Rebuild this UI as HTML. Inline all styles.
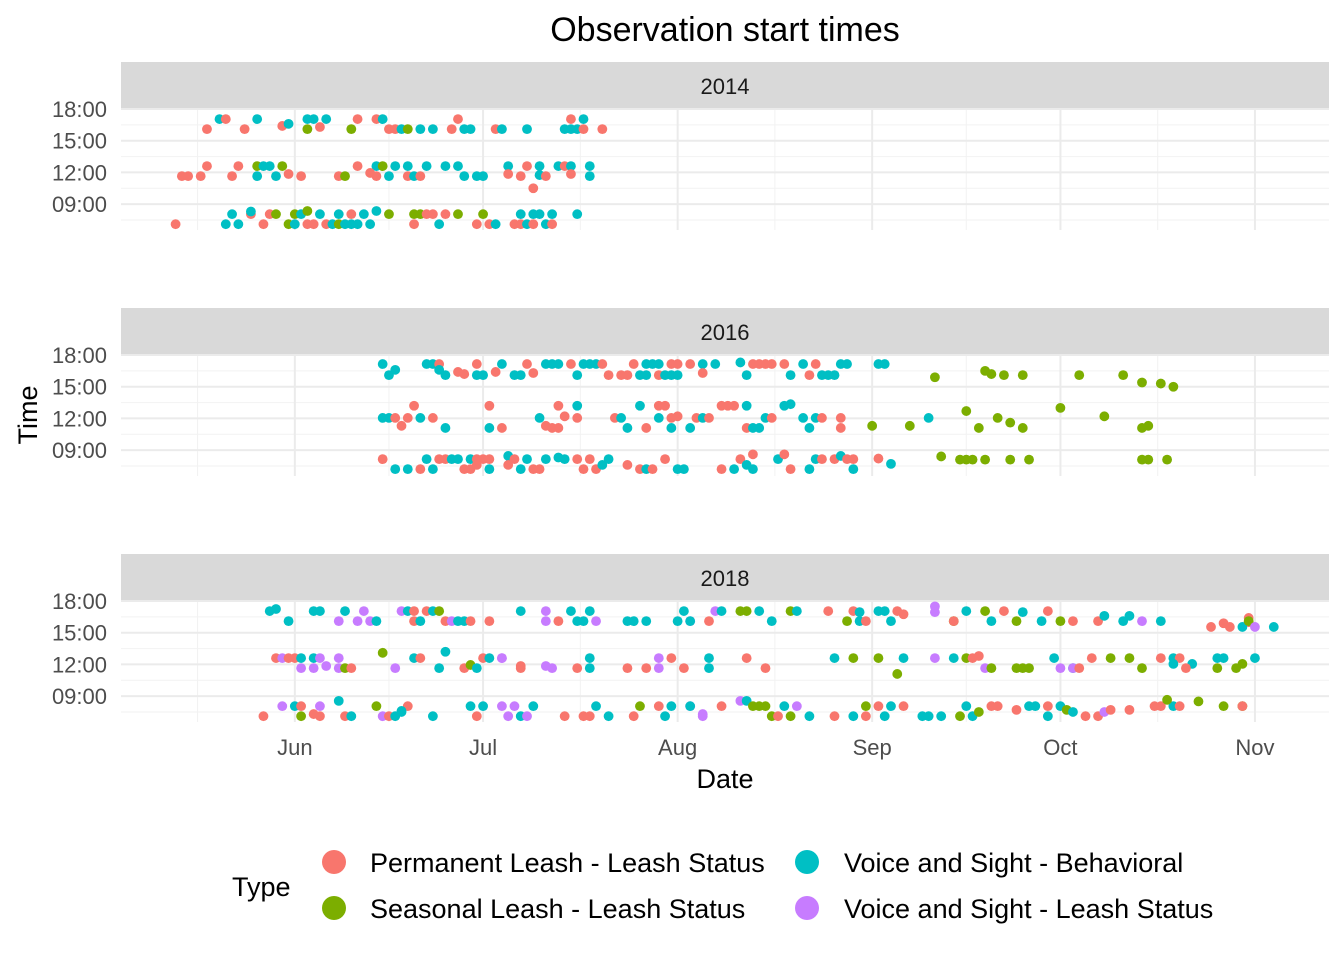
<!DOCTYPE html>
<html><head><meta charset="utf-8"><style>
body{margin:0;background:#fff;}
svg text{font-family:"Liberation Sans",Arial,sans-serif;}
</style></head><body>
<svg id="chart" width="1344" height="960" viewBox="0 0 1344 960" xmlns="http://www.w3.org/2000/svg">
<text x="725" y="41" font-size="34" text-anchor="middle" fill="#000">Observation start times</text>
<g id="panels"></g>
<text x="725" y="788" font-size="27" text-anchor="middle" fill="#000">Date</text>
<text x="0" y="0" font-size="27" text-anchor="middle" fill="#000" transform="translate(37,415) rotate(-90)">Time</text>
<g>
<text x="232" y="896" font-size="27" fill="#000">Type</text>
<circle cx="334" cy="862" r="12" fill="#F8766D"/>
<text x="370" y="872" font-size="27" fill="#000">Permanent Leash - Leash Status</text>
<circle cx="334" cy="908" r="12" fill="#7CAE00"/>
<text x="370" y="918" font-size="27" fill="#000">Seasonal Leash - Leash Status</text>
<circle cx="807" cy="862" r="12" fill="#00BFC4"/>
<text x="844" y="872" font-size="27" fill="#000">Voice and Sight - Behavioral</text>
<circle cx="807" cy="908" r="12" fill="#C77CFF"/>
<text x="844" y="918" font-size="27" fill="#000">Voice and Sight - Leash Status</text>
</g>
</svg>
<script>
// days are offsets from June 1; hours are decimal clock hours
const years = ["2014","2016","2018"];
const yTicks = [9,12,15,18];
const yTickLabels = ["09:00","12:00","15:00","18:00"];
const xTicks = [0,30,61,92,122,153];
const xTickLabels = ["Jun","Jul","Aug","Sep","Oct","Nov"];
const typeColors = {P:"#F8766D",S:"#7CAE00",V:"#00BFC4",L:"#C77CFF"};

const obs2014 = [
[-12,17.05,'V'],[-11,17.05,'P'],[-6,17.05,'V'],[2,17.05,'V'],[3,17.05,'V'],[5,17.05,'V'],[10,17.05,'P'],[13,17.05,'P'],[14,17.05,'V'],[26,17.05,'P'],[44,17.05,'P'],[46,17.05,'V'],
[-2,16.4,'P'],[-1,16.6,'V'],[4,16.3,'P'],
[-14,16.1,'P'],[-8,16.1,'P'],[2,16.1,'S'],[9,16.1,'S'],[15,16.1,'P'],[16,16.1,'P'],[17,16.1,'V'],[18,16.1,'S'],[20,16.1,'V'],[22,16.1,'V'],[25,16.1,'P'],[27,16.1,'V'],[28,16.1,'V'],[32,16.1,'P'],[33,16.1,'V'],[37,16.1,'V'],[43,16.1,'V'],[44,16.1,'V'],[45,16.1,'V'],[46,16.1,'P'],[49,16.1,'P'],
[-14,12.6,'P'],[-9,12.6,'P'],[-6,12.6,'S'],[-5,12.6,'V'],[-4,12.6,'V'],[-2,12.6,'S'],[10,12.6,'P'],[13,12.6,'V'],[14,12.6,'S'],[16,12.6,'V'],[18,12.6,'V'],[21,12.6,'V'],[24,12.6,'V'],[26,12.6,'V'],[34,12.6,'V'],[37,12.6,'P'],[39,12.6,'V'],[42,12.6,'V'],[43,12.6,'P'],[44,12.6,'V'],[47,12.6,'V'],
[-18,11.65,'P'],[-17,11.65,'P'],[-15,11.65,'P'],[-10,11.65,'P'],[-6,11.65,'V'],[-3,11.65,'V'],[-1,11.85,'P'],[1,11.65,'P'],[7,11.65,'P'],[8,11.65,'S'],[12,11.95,'P'],[13,11.65,'P'],[15,11.65,'V'],[18,11.65,'P'],[19,11.65,'V'],[20,11.65,'P'],[27,11.65,'V'],[29,11.65,'V'],[30,11.65,'V'],[34,11.85,'P'],[36,11.65,'P'],[39,11.75,'V'],[40,11.65,'P'],[44,11.85,'P'],[47,11.65,'V'],
[38,10.5,'P'],
[-10,8.05,'V'],[-7,8.05,'P'],[-7,8.3,'V'],[-4,8.05,'P'],[-3,8.05,'S'],[0,8.05,'S'],[1,8.05,'V'],[2,8.35,'S'],[4,8.05,'V'],[7,8.05,'V'],[9,8.05,'P'],[11,8.05,'V'],[13,8.35,'V'],[15,8.05,'S'],[19,8.05,'S'],[20,8.05,'S'],[21,8.05,'P'],[22,8.05,'P'],[24,8.05,'P'],[26,8.05,'S'],[30,8.05,'S'],[36,8.05,'V'],[38,8.05,'V'],[39,8.05,'V'],[41,8.05,'V'],[45,8.05,'V'],
[-19,7.1,'P'],[-11,7.1,'V'],[-9,7.1,'V'],[-5,7.1,'P'],[-1,7.1,'S'],[0,7.1,'V'],[2,7.1,'P'],[3,7.1,'P'],[5,7.1,'P'],[6,7.1,'V'],[7,7.1,'S'],[8,7.1,'V'],[9,7.1,'V'],[10,7.1,'V'],[12,7.1,'V'],[19,7.1,'P'],[23,7.1,'V'],[29,7.1,'P'],[31,7.1,'P'],[32,7.1,'V'],[35,7.1,'P'],[36,7.1,'P'],[37,7.1,'V'],[38,7.1,'P'],[40,7.1,'V'],[41,7.1,'P']
];

const obs2016 = [
[14,17.15,'V'],[21,17.15,'V'],[22,17.15,'V'],[23,17.15,'P'],[29,17.15,'P'],[33,17.15,'V'],[37,17.15,'P'],[40,17.15,'V'],[41,17.15,'V'],[42,17.15,'V'],[44,17.15,'P'],[46,17.15,'V'],[47,17.15,'V'],[48,17.15,'V'],[49,17.15,'P'],[54,17.15,'P'],[56,17.15,'V'],[57,17.15,'V'],[58,17.15,'V'],[60,17.15,'P'],[61,17.15,'P'],[63,17.15,'P'],[65,17.15,'V'],[67,17.15,'V'],[71,17.3,'V'],[73,17.15,'P'],[74,17.15,'P'],[75,17.15,'P'],[76,17.15,'P'],[78,17.15,'P'],[81,17.15,'V'],[83,17.15,'P'],[87,17.15,'V'],[88,17.15,'V'],
[15,16.1,'V'],[16,16.6,'V'],[23,16.6,'V'],[24,16.1,'V'],[26,16.4,'P'],[27,16.2,'P'],[29,16.1,'V'],[30,16.1,'V'],[32,16.4,'P'],[35,16.1,'V'],[36,16.1,'V'],[38,16.3,'P'],[45,16.1,'V'],[50,16.1,'P'],[52,16.1,'P'],[53,16.1,'P'],[55,16.1,'V'],[56,16.1,'V'],[58,16.1,'P'],[59,16.1,'V'],[60,16.1,'V'],[61,16.1,'V'],[65,16.3,'P'],[72,16.1,'V'],[79,16.1,'V'],[82,16.1,'P'],[84,16.1,'V'],[85,16.1,'V'],[86,16.1,'V'],
[19,13.2,'P'],[31,13.2,'P'],[42,13.2,'P'],[45,13.2,'V'],[55,13.2,'V'],[58,13.2,'P'],[59,13.2,'P'],[68,13.2,'P'],[69,13.2,'P'],[70,13.2,'P'],[72,13.2,'V'],[78,13.2,'V'],[79,13.35,'V'],
[14,12.05,'V'],[15,12.05,'V'],[16,12.05,'P'],[18,12.05,'P'],[20,12.05,'V'],[22,12.05,'P'],[39,12.05,'V'],[43,12.2,'P'],[45,12.05,'P'],[51,12.05,'P'],[52,12.05,'V'],[58,12.05,'V'],[60,12.05,'P'],[61,12.2,'P'],[64,12.05,'P'],[65,12.05,'V'],[66,12.05,'P'],[75,12.05,'V'],[76,12.05,'P'],[81,12.05,'V'],[83,12.05,'V'],[84,12.05,'P'],[87,12.05,'P'],
[17,11.3,'P'],[24,11.1,'V'],[31,11.1,'V'],[33,11.1,'P'],[40,11.3,'P'],[41,11.1,'P'],[42,11.1,'P'],[53,11.1,'V'],[56,11.1,'P'],[60,11.1,'V'],[63,11.1,'V'],[72,11.1,'P'],[73,11.1,'V'],[74,11.1,'V'],[82,11.1,'V'],[87,11.1,'P'],[92,11.3,'S'],
[14,8.15,'P'],[21,8.15,'V'],[23,8.15,'P'],[24,8.15,'P'],[25,8.15,'V'],[26,8.15,'V'],[28,8.15,'V'],[29,8.15,'P'],[30,8.15,'P'],[31,8.15,'P'],[34,8.45,'V'],[35,8.15,'P'],[37,8.15,'V'],[40,8.15,'V'],[42,8.3,'V'],[43,8.15,'V'],[45,8.15,'P'],[47,8.15,'P'],[50,8.15,'V'],[59,8.15,'P'],[71,8.15,'P'],[73,8.6,'P'],[77,8.15,'V'],[78,8.6,'P'],[83,8.15,'V'],[84,8.15,'P'],[86,8.15,'P'],[87,8.45,'V'],[88,8.15,'P'],[89,8.15,'P'],
[16,7.2,'V'],[18,7.2,'V'],[20,7.2,'P'],[22,7.2,'V'],[27,7.2,'P'],[28,7.2,'P'],[29,7.6,'P'],[31,7.2,'V'],[34,7.6,'P'],[36,7.2,'V'],[38,7.2,'P'],[39,7.2,'P'],[46,7.2,'P'],[48,7.2,'P'],[49,7.6,'V'],[53,7.6,'P'],[55,7.2,'P'],[56,7.2,'V'],[57,7.2,'P'],[61,7.2,'V'],[62,7.2,'V'],[68,7.2,'P'],[70,7.2,'V'],[72,7.6,'V'],[73,7.2,'V'],[79,7.2,'P'],[82,7.2,'V'],[89,7.2,'V'],
[93,17.15,'V'],[94,17.15,'V'],[93,8.2,'P'],[95,7.7,'V'],[101,12.05,'V'],[98,11.3,'S'],
[102,15.9,'S'],[103,8.4,'S'],[106,8.1,'S'],[107,8.1,'S'],[108,8.1,'S'],[110,8.1,'S'],[114,8.1,'S'],[117,8.1,'S'],[110,16.5,'S'],[111,16.2,'S'],[113,16.1,'S'],[116,16.1,'S'],[107,12.7,'S'],[109,11.1,'S'],[112,12.05,'S'],[114,11.6,'S'],[116,11.1,'S'],[122,13.0,'S'],[125,16.1,'S'],[129,12.2,'S'],[132,16.1,'S'],[135,15.4,'S'],[138,15.3,'S'],[140,15.0,'S'],[135,11.1,'S'],[136,11.3,'S'],[135,8.1,'S'],[136,8.1,'S'],[139,8.1,'S']
];

const obs2018 = [
[-4,17.05,'V'],[-3,17.25,'V'],[3,17.05,'V'],[4,17.05,'V'],[8,17.05,'V'],[11,17.05,'L'],[17,17.05,'L'],[18,17.05,'V'],[19,17.05,'P'],[21,17.05,'P'],[22,17.05,'V'],[23,17.05,'S'],[36,17.05,'V'],[40,17.05,'L'],[44,17.05,'V'],[47,17.05,'V'],[62,17.05,'V'],[67,17.05,'L'],[68,17.05,'V'],[71,17.05,'S'],[72,17.05,'S'],[74,17.05,'V'],
[-1,16.1,'V'],[7,16.1,'L'],[10,16.1,'L'],[12,16.1,'L'],[13,16.1,'V'],[19,16.1,'P'],[20,16.1,'V'],[24,16.1,'P'],[25,16.1,'L'],[26,16.1,'V'],[27,16.1,'V'],[28,16.1,'P'],[31,16.1,'P'],[40,16.1,'L'],[42,16.1,'P'],[45,16.1,'V'],[46,16.1,'V'],[48,16.1,'L'],[53,16.1,'V'],[54,16.1,'V'],[56,16.1,'V'],[61,16.1,'V'],[63,16.1,'L'],[63,16.1,'V'],[66,16.1,'P'],[76,16.1,'V'],
[14,13.1,'S'],
[-3,12.6,'P'],[-2,12.6,'L'],[-1,12.6,'P'],[0,12.6,'P'],[1,12.6,'V'],[3,12.6,'V'],[4,12.6,'L'],[7,12.6,'L'],[19,12.6,'V'],[20,12.6,'P'],[24,13.2,'V'],[30,12.6,'P'],[31,12.6,'V'],[33,12.6,'L'],[33,12.6,'L'],[47,12.6,'V'],[58,12.6,'L'],[60,12.6,'P'],[66,12.6,'V'],[72,12.6,'P'],
[1,11.65,'L'],[3,11.65,'L'],[5,11.85,'L'],[7,11.65,'L'],[8,11.65,'S'],[9,11.65,'P'],[16,11.65,'L'],[23,11.65,'V'],[27,11.65,'P'],[28,11.95,'S'],[29,11.65,'V'],[36,11.65,'P'],[36,11.85,'P'],[40,11.85,'L'],[41,11.65,'L'],[45,11.65,'P'],[47,11.65,'V'],[53,11.65,'P'],[56,11.65,'P'],[58,11.65,'L'],[62,11.65,'P'],[66,11.65,'V'],[75,11.65,'P'],
[-2,8.05,'L'],[0,8.05,'V'],[1,8.05,'P'],[4,8.05,'L'],[7,8.55,'V'],[13,8.05,'S'],[18,8.05,'P'],[17,7.6,'V'],[28,8.05,'V'],[30,8.05,'V'],[33,8.05,'L'],[35,8.05,'L'],[38,8.05,'V'],[48,8.05,'V'],[55,8.05,'S'],[58,8.05,'P'],[60,8.05,'V'],[63,8.05,'L'],[63,8.05,'V'],[68,8.05,'P'],[71,8.55,'L'],[72,8.55,'V'],[73,8.05,'S'],[74,8.05,'S'],
[-5,7.1,'P'],[1,7.1,'S'],[3,7.3,'P'],[4,7.1,'P'],[8,7.1,'P'],[9,7.1,'V'],[14,7.1,'L'],[15,7.1,'P'],[16,7.1,'V'],[17,7.5,'V'],[22,7.1,'V'],[29,7.1,'P'],[34,7.1,'L'],[36,7.1,'V'],[37,7.1,'L'],[43,7.1,'P'],[46,7.1,'P'],[47,7.1,'P'],[50,7.1,'V'],[54,7.1,'P'],[59,7.1,'V'],[65,7.1,'L'],[65,7.3,'L'],[76,7.1,'S'],
[79,17.05,'S'],[80,17.05,'V'],[85,17.05,'P'],[89,17.05,'P'],[90,16.95,'V'],[93,17.05,'V'],[94,17.05,'V'],[96,17.05,'P'],[97,16.75,'P'],[102,17.5,'L'],[102,16.95,'L'],[107,17.05,'V'],[110,17.05,'S'],[113,17.05,'P'],[116,16.95,'V'],[120,17.05,'P'],
[88,16.1,'S'],[90,16.1,'V'],[95,16.1,'V'],[91,16.1,'P'],[105,16.1,'S'],[105,16.1,'P'],[111,16.1,'V'],[115,16.1,'S'],[119,16.1,'V'],[122,16.1,'S'],[124,16.1,'P'],[128,16.1,'P'],[129,16.6,'V'],[132,16.1,'V'],[133,16.6,'V'],[135,16.1,'L'],[138,16.1,'V'],[146,15.55,'P'],[148,15.9,'P'],[149,15.55,'P'],[152,16.0,'P'],[152,16.4,'P'],[151,15.55,'V'],[152,16.1,'S'],[153,15.55,'L'],[156,15.55,'V'],
[86,12.6,'V'],[89,12.6,'S'],[93,12.6,'S'],[96,11.1,'S'],[97,12.6,'V'],[102,12.6,'L'],[105,12.6,'V'],[107,12.6,'S'],[108,12.6,'P'],[109,12.8,'P'],[110,11.65,'L'],[111,11.65,'S'],[115,11.65,'S'],[116,11.65,'S'],[117,11.65,'S'],[121,12.6,'V'],[122,11.65,'L'],[124,11.65,'V'],[124,11.65,'L'],[125,11.65,'P'],[127,12.6,'P'],[130,12.6,'S'],[133,12.6,'S'],[135,11.65,'S'],[138,12.6,'P'],[140,12.6,'V'],[141,12.6,'P'],[140,12.05,'V'],[143,12.05,'V'],[142,11.65,'P'],[147,12.6,'V'],[148,12.6,'V'],[147,11.65,'S'],[150,11.65,'S'],[151,12.05,'S'],[153,12.6,'V'],
[75,8.05,'S'],[77,7.1,'P'],[78,8.05,'V'],[79,7.1,'S'],[80,8.05,'L'],[82,7.1,'V'],[86,7.1,'P'],[89,7.1,'V'],[91,8.05,'S'],[91,7.1,'P'],[93,8.05,'P'],[94,7.1,'V'],[95,8.05,'V'],[97,8.05,'P'],[100,7.1,'V'],[101,7.1,'V'],[103,7.1,'V'],[106,7.1,'S'],[107,8.05,'V'],[108,7.1,'V'],[109,7.5,'S'],[111,8.05,'P'],[112,8.05,'P'],[115,7.7,'P'],[117,8.05,'V'],[118,8.05,'V'],[120,8.05,'P'],[120,7.1,'V'],[122,8.05,'V'],[123,7.7,'S'],[124,7.5,'V'],[126,7.1,'P'],[128,7.1,'P'],[129,7.5,'L'],[130,7.7,'P'],[133,7.7,'P'],[137,8.05,'P'],[138,8.05,'P'],[140,8.05,'V'],[139,8.65,'S'],[141,8.05,'P'],[144,8.5,'S'],[148,8.05,'S'],[151,8.05,'S'],[151,8.05,'P']
];
const panelData = [obs2014, obs2016, obs2018];

const NS = "http://www.w3.org/2000/svg";
const left = 121, right = 1329;
const dayMin = -27.7, dayMax = 164.8;
const hourMin = 6.55, hourMax = 18.1;
const plotH = 122, stripH = 46;
const panelTops = [62, 308, 554];
function xScale(d){ return left + (d - dayMin) / (dayMax - dayMin) * (right - left); }
function yScale(h, top){ return top + (hourMax - h) / (hourMax - hourMin) * plotH; }
function mk(tag, attrs, parent){ const e = document.createElementNS(NS, tag); for (const k in attrs) e.setAttribute(k, attrs[k]); parent.appendChild(e); return e; }

const root = document.getElementById('panels');
years.forEach((yr, i) => {
  const g = mk('g', {}, root);
  
  
  const st = panelTops[i];
  const strip = mk('rect', {x:left, y:st, width:right-left, height:stripH, fill:'#D9D9D9'}, g);
  
  
  const sl = mk('text', {x:725, y:st+32, 'font-size':22, 'text-anchor':'middle', fill:'#1a1a1a'}, g);
  sl.textContent = yr;
  
  
  const top = st + stripH;
  const bottom = top + plotH;
  [7.5,10.5,13.5,16.5].forEach(h => {
    const l = mk('line', {x1:left, x2:right, y1:yScale(h,top), y2:yScale(h,top), stroke:'#F2F2F2', 'stroke-width':1}, g);
    
    
  });
  for (let k = 0; k < xTicks.length; k++) {
    const mid = k === 0 ? -15.5 : (xTicks[k-1] + xTicks[k]) / 2;
    const l = mk('line', {x1:xScale(mid), x2:xScale(mid), y1:top, y2:bottom, stroke:'#F2F2F2', 'stroke-width':1}, g);
    
    
  }
  yTicks.forEach((h, k) => {
    const y = yScale(h, top);
    const l = mk('line', {x1:left, x2:right, y1:y, y2:y, stroke:'#EBEBEB', 'stroke-width':2}, g);
    
    
    const t = mk('text', {x:107, y:y+8, 'font-size':22, 'text-anchor':'end', fill:'#4D4D4D'}, g);
    t.textContent = yTickLabels[k];
    
    
  });
  xTicks.forEach(d => {
    const l = mk('line', {x1:xScale(d), x2:xScale(d), y1:top, y2:bottom, stroke:'#EBEBEB', 'stroke-width':2}, g);
    
    
  });
  panelData[i].forEach(p => {
    const c = mk('circle', {cx:xScale(p[0]), cy:yScale(p[1], top), r:4.9, fill:typeColors[p[2]]}, g);
    
    
  });
});
xTicks.forEach((d, k) => {
  const t = mk('text', {x:xScale(d), y:755, 'font-size':22, 'text-anchor':'middle', fill:'#4D4D4D'}, root);
  t.textContent = xTickLabels[k];
  
  
});
</script>
</body></html>
